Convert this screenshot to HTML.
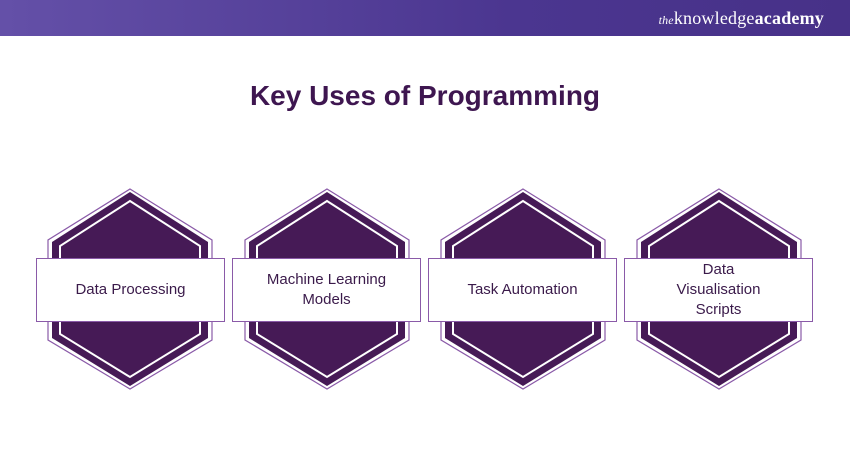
<!DOCTYPE html>
<html><head><style>
body{margin:0;width:850px;height:450px;background:#fff;font-family:"Liberation Sans",sans-serif;overflow:hidden;position:relative}
.bar{position:absolute;left:0;top:0;width:850px;height:36px;background:linear-gradient(90deg,#6450a8,#4b3690 60%,#473188)}
.logo{position:absolute;right:26px;top:8px;color:#fff;font-family:"Liberation Serif",serif;font-size:18px;letter-spacing:0.2px}
.logo i{font-size:12px}
h1{position:absolute;top:80px;left:0;width:850px;text-align:center;margin:0;font-size:28px;color:#3e1650;font-weight:bold}
.lbl{position:absolute;top:258px;width:187px;height:62px;background:#fff;border:1px solid #8a5aa8;display:flex;align-items:center;justify-content:center;text-align:center;font-size:15px;color:#3a1a4a;line-height:20px}
</style></head><body>
<div class="bar"></div>
<div class="logo"><i>the</i>knowledge<b>academy</b></div>
<h1>Key Uses of Programming</h1>
<svg width="850" height="450" style="position:absolute;left:0;top:0">
<defs><g id="h">
<polygon points="0,-100 82,-49 82,51 0,100 -82,51 -82,-49" fill="#fff" stroke="#8a5aa8" stroke-width="1.2"/>
<polygon points="0,-97 78,-47 78,49 0,97 -78,49 -78,-47" fill="#461a56"/>
<polygon points="0,-88 70,-43 70,45 0,88 -70,45 -70,-43" fill="none" stroke="#fff" stroke-width="2"/>
</g></defs>
<use href="#h" x="130" y="289"/>
<use href="#h" x="327" y="289"/>
<use href="#h" x="523" y="289"/>
<use href="#h" x="719" y="289"/>
</svg>
<div class="lbl" style="left:36px">Data Processing</div>
<div class="lbl" style="left:232px">Machine Learning<br>Models</div>
<div class="lbl" style="left:428px">Task Automation</div>
<div class="lbl" style="left:624px">Data<br>Visualisation<br>Scripts</div>
</body></html>
